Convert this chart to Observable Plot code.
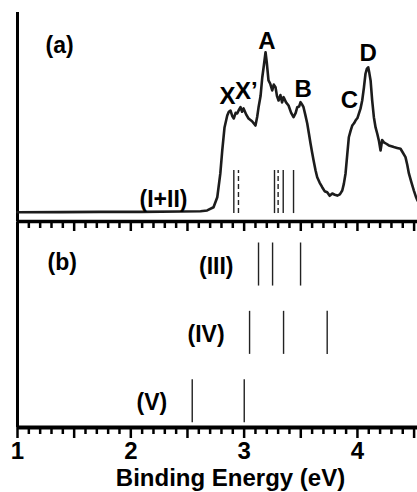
<!DOCTYPE html>
<html><head><meta charset="utf-8">
<script src="https://cdn.jsdelivr.net/npm/d3@7"></script>
<script src="https://cdn.jsdelivr.net/npm/@observablehq/plot@0.6"></script>
<style>
body{margin:0;background:#fff;}
#chart{width:417px;}
#chart svg{display:block;overflow:visible;background:transparent;}
</style></head><body><div id="chart"></div>
<script>
// Panel (a) spectrum (I+II): binding energy (eV) and intensity (arb. units)
const energy = [1.00,1.38,1.73,2.09,2.44,2.615,2.674,2.73,2.763,2.79,2.807,2.827,2.851,2.865,2.88,2.895,2.909,2.925,2.939,2.955,2.968,2.982,2.995,3.02,3.039,3.07,3.10,3.115,3.127,3.145,3.16,3.175,3.189,3.20,3.215,3.23,3.248,3.262,3.277,3.29,3.304,3.32,3.335,3.348,3.37,3.392,3.415,3.436,3.455,3.469,3.485,3.498,3.511,3.524,3.54,3.557,3.572,3.586,3.60,3.613,3.63,3.645,3.667,3.689,3.71,3.733,3.755,3.778,3.80,3.822,3.845,3.866,3.88,3.895,3.91,3.924,3.94,3.954,3.97,3.983,4.00,4.012,4.027,4.042,4.057,4.071,4.083,4.095,4.105,4.116,4.13,4.145,4.16,4.175,4.19,4.204,4.218,4.233,4.255,4.277,4.30,4.321,4.35,4.38,4.40,4.424,4.44,4.454,4.475,4.498,4.515,4.53];
const intensity = [4.4,4.5,4.6,4.6,4.8,4.9,5.3,6.8,11.6,23,34,45,50.7,52.5,53.1,50.5,49.3,52,51.7,53.5,54.7,52.5,54.1,51,49.3,48,45.9,50,54.5,60,68.9,75,81,76,67.5,66,62.7,65.5,64.3,60,57.9,60.5,57,59.5,57,55.5,52,49.9,52,54.7,55,57.1,56,54.7,51,46.9,42,37.3,33,29.2,24.5,21.2,18.5,16.4,14.5,14.0,12.3,13.4,12.8,12.4,13,14.8,18,23,32,40.3,43.5,45.9,47,48.3,49.5,51.5,54,57.9,64,70.7,73,73.8,71,67.5,58,49.9,45,42,38.5,34,39,37.9,37.2,36.4,36,35.6,35.2,34.8,33,30.8,27,23,19,14.8,12,10];

// Panel (a) sticks
const sticksSolid = [2.909, 3.268, 3.345, 3.436];
const sticksDashed = [2.95, 3.30];

// Panel (b) sticks per isomer row (bottom to top)
const rowNames = ["(V)", "(IV)", "(III)"];
const rowSticks = [[2.542, 3.001], [3.048, 3.348, 3.733], [3.127, 3.251, 3.498]];

// Peak labels in panel (a)
const peakLabels = ["X", "X\u2019", "A", "B", "C", "D"];
const peakX = [2.853, 3.02, 3.202, 3.52, 3.93, 4.094];
const peakY = [59.8, 62.2, 86.1, 63.2, 57.9, 80.4];

// Axis ticks
const majorTicks = [1, 1.5, 2, 2.5, 3, 3.5, 4, 4.5];
const minorTicks = d3.range(10, 46).map(i => i / 10).filter(v => !majorTicks.includes(v));
const tickLabels = [1, 2, 3, 4];
const xTitle = "Binding Energy (eV)";

const font = "'Liberation Sans', Arial, Helvetica, sans-serif";
const xDomain = [1, 4.53];
const curve = energy.map((e, i) => ({e, v: intensity[i]}));
const rows = rowSticks.flatMap((xs, r) => xs.map(x => ({x, r})));
const svgStyle = {fontFamily: font, background: "transparent", overflow: "visible", color: "#000"};

const panelA = Plot.plot({
  width: 417, height: 222, marginTop: 12, marginBottom: 1, marginLeft: 17, marginRight: 0,
  x: {domain: xDomain},
  y: {domain: [0, 100], axis: null},
  style: svgStyle,
  marks: [
    Plot.ruleX([1], {stroke: "#000", strokeWidth: 3}),
    Plot.ruleY([0], {stroke: "#000", strokeWidth: 3.5}),
    Plot.axisX(minorTicks, {tickSize: 7, tickFormat: () => "", strokeWidth: 2.5, label: null}),
    Plot.axisX(majorTicks, {tickSize: 10, tickFormat: () => "", strokeWidth: 2.5, label: null}),
    Plot.ruleX(sticksSolid, {y1: 3.8, y2: 24.4, stroke: "#222", strokeWidth: 1.4}),
    Plot.ruleX(sticksDashed, {y1: 3.8, y2: 24.4, stroke: "#222", strokeWidth: 1.4, strokeDasharray: "5,3"}),
    Plot.line(curve, {x: "e", y: "v", stroke: "#1c1c1c", strokeWidth: 2.6}),
    Plot.text(peakLabels, {x: (d, i) => peakX[i], y: (d, i) => peakY[i], text: d => d, fontSize: 24, fontWeight: "bold", fill: "#000"}),
    Plot.text(["(a)"], {x: 1.247, y: 84.2, text: d => d, textAnchor: "start", fontSize: 23, fontWeight: "bold", fill: "#000"}),
    Plot.text(["(I+II)"], {x: 2.5, y: 10.5, text: d => d, textAnchor: "end", fontSize: 23, fontWeight: "bold", fill: "#000"})
  ]
});

const panelB = Plot.plot({
  width: 417, height: 270, marginTop: 0, marginBottom: 65, marginLeft: 17, marginRight: 0,
  x: {domain: xDomain},
  y: {domain: [0, 3], axis: null},
  style: svgStyle,
  marks: [
    Plot.ruleX([1], {stroke: "#000", strokeWidth: 3}),
    Plot.ruleY([0], {stroke: "#000", strokeWidth: 4}),
    Plot.ruleX(rows, {x: "x", y1: d => d.r + 0.07, y2: d => d.r + 0.70, stroke: "#222", strokeWidth: 1.4}),
    Plot.text(rowNames, {x: (d, i) => rowSticks[i][0], y: (d, i) => i + 0.36, text: d => d, dx: -25, textAnchor: "end", fontSize: 23, fontWeight: "bold", fill: "#000"}),
    Plot.text(["(b)"], {x: 1.265, y: 2.41, text: d => d, textAnchor: "start", fontSize: 23, fontWeight: "bold", fill: "#000"}),
    Plot.axisX(minorTicks, {tickSize: 7, tickFormat: () => "", strokeWidth: 2.5, label: null}),
    Plot.axisX(majorTicks, {tickSize: 11, tickFormat: () => "", strokeWidth: 2.5, label: null}),
    Plot.axisX(tickLabels, {tickSize: 0, tickPadding: 14, fontSize: 24, fontWeight: "bold", tickFormat: d => String(d), label: null}),
    Plot.text([xTitle], {frameAnchor: "bottom", text: d => d, dx: 13, dy: 58, fontSize: 24, fontWeight: "bold", fill: "#000"})
  ]
});

const chart = document.getElementById("chart");
chart.appendChild(panelA);
chart.appendChild(panelB);
</script>
</body></html>
